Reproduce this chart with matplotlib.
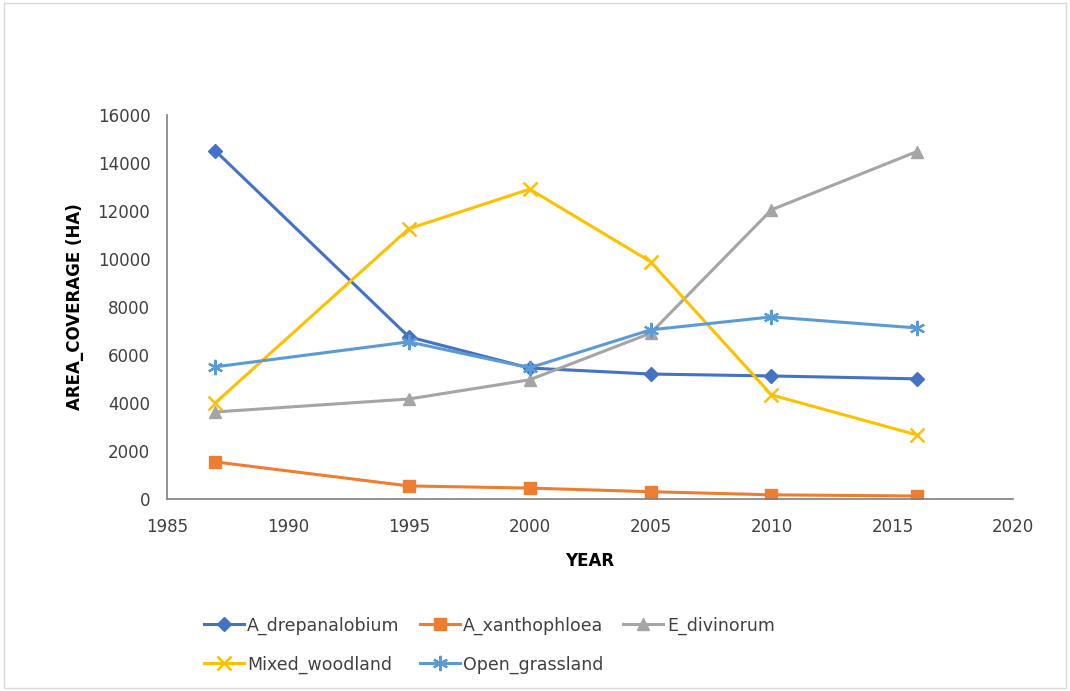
import matplotlib
matplotlib.use("Agg")
import matplotlib.pyplot as plt
from matplotlib.patches import Rectangle

years = [1987, 1995, 2000, 2005, 2010, 2016]
a_drepanalobium = [14500, 6750, 5450, 5200, 5120, 5000]
a_xanthophloea = [1540, 540, 450, 300, 170, 120]
e_divinorum = [3620, 4160, 4960, 6900, 12040, 14460]
mixed_woodland = [4000, 11250, 12900, 9880, 4330, 2670]
open_grassland = [5500, 6540, 5460, 7040, 7580, 7120]
xticks = [1985, 1990, 1995, 2000, 2005, 2010, 2015, 2020]
yticks = [0, 2000, 4000, 6000, 8000, 10000, 12000, 14000, 16000]

plt.rcParams['font.family'] = ['DejaVu Sans']

fig = plt.figure(figsize=(10.7, 6.91), dpi=100)
fig.patches.append(Rectangle((0.004, 0.004), 0.992, 0.992, transform=fig.transFigure,
                             fill=False, edgecolor='#d9d9d9', linewidth=1))
ax = fig.add_axes([0.156, 0.278, 0.791, 0.556])

series = [
    ("A_drepanalobium", a_drepanalobium, '#4472C4', 'D', 7, 1.0),
    ("A_xanthophloea", a_xanthophloea, '#ED7D31', 's', 9, 1.0),
    ("E_divinorum", e_divinorum, '#A5A5A5', '^', 9, 1.0),
    ("Mixed_woodland", mixed_woodland, '#FFC000', 'x', 10, 1.8),
    ("Open_grassland", open_grassland, '#5B9BD5', (6, 2, 0), 11, 1.6),
]
handles = {}
for name, vals, col, mk, ms, mew in series:
    (h,) = ax.plot(years, vals, color=col, lw=2.2, marker=mk, ms=ms,
                   mew=mew, label=name)
    handles[name] = h

ax.set_xlim(1985, 2020)
ax.set_ylim(0, 16000)
ax.set_xticks(xticks)
ax.set_yticks(yticks)
for s in ['top', 'right']:
    ax.spines[s].set_visible(False)
ax.spines['left'].set_color('#808080')
ax.spines['bottom'].set_color('#808080')
ax.spines['left'].set_linewidth(1.2)
ax.spines['bottom'].set_linewidth(1.2)
ax.tick_params(length=0, labelsize=12, colors='#404040')
ax.tick_params(axis='x', pad=14)
ax.tick_params(axis='y', pad=12)
ax.set_xlabel('YEAR', fontsize=12, fontweight='bold', color='#000000', labelpad=11)
ax.set_ylabel('AREA_COVERAGE (HA)', fontsize=12, fontweight='bold', color='#000000', labelpad=10)

order = ["A_drepanalobium", "Mixed_woodland", "A_xanthophloea", "Open_grassland", "E_divinorum"]
fig.legend([handles[n] for n in order], order, ncol=3, loc='upper left',
           bbox_to_anchor=(0.1905, 0.108), frameon=False, fontsize=12.5,
           handlelength=2.3, columnspacing=1.15, labelspacing=1.2, handletextpad=0.2,
           labelcolor='#404040', borderaxespad=0, borderpad=0)

fig.savefig('out.png', dpi=100)
